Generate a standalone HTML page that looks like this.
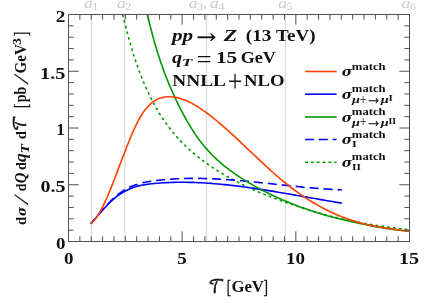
<!DOCTYPE html>
<html><head><meta charset="utf-8"><title>plot</title>
<style>html,body{margin:0;padding:0;background:#fff}svg{display:block;will-change:transform}</style></head>
<body><svg width="424" height="303" viewBox="0 0 424 303">
<rect width="424" height="303" fill="#fff"/>
<path d="M91.4 14.5 V241.5 M124.7 14.5 V241.5 M206.5 14.5 V241.5 M285.5 14.5 V241.5" stroke="#dedede" stroke-width="1.45" fill="none"/>
<clipPath id="c"><rect x="68.5" y="14.5" width="341.0" height="227.0"/></clipPath>
<g clip-path="url(#c)" fill="none" stroke-width="1.6" stroke-linecap="butt">
<path d="M116.3 -16.6 L117.3 -11.5 L118.2 -6.5 L119.2 -1.7 L120.2 3.0 L121.2 7.5 L122.2 11.9 L123.1 16.2 L124.1 20.3 L125.1 24.3 L126.1 28.2 L127.1 32.0 L128.1 35.7 L129.0 39.3 L130.0 42.8 L131.0 46.2 L132.0 49.4 L133.0 52.6 L133.9 55.7 L134.9 58.7 L135.9 61.7 L136.9 64.5 L137.9 67.3 L138.8 70.0 L139.8 72.7 L140.8 75.2 L141.8 77.7 L142.8 80.2 L143.7 82.5 L144.7 84.8 L145.7 87.1 L146.7 89.3 L147.7 91.4 L148.7 93.5 L149.6 95.6 L150.6 97.6 L151.6 99.5 L152.6 101.4 L153.6 103.2 L154.5 105.0 L155.5 106.8 L156.5 108.5 L157.5 110.2 L158.5 111.9 L159.4 113.5 L160.4 115.0 L161.4 116.6 L162.4 118.1 L163.4 119.5 L164.4 121.0 L165.3 122.4 L166.3 123.8 L167.3 125.1 L168.3 126.4 L169.3 127.7 L170.2 129.0 L171.2 130.3 L172.2 131.5 L173.2 132.7 L174.2 133.8 L175.1 135.0 L176.1 136.1 L177.1 137.2 L178.1 138.3 L179.1 139.4 L180.0 140.4 L181.0 141.4 L182.0 142.5 L183.0 143.5 L184.0 144.4 L185.0 145.4 L185.9 146.3 L186.9 147.3 L187.9 148.2 L188.9 149.1 L189.9 150.0 L190.8 150.8 L191.8 151.7 L192.8 152.5 L193.8 153.4 L194.8 154.2 L195.7 155.0 L196.7 155.8 L197.7 156.6 L198.7 157.4 L199.7 158.1 L200.6 158.9 L201.6 159.6 L202.6 160.4 L203.6 161.1 L204.6 161.8 L205.6 162.6 L206.5 163.3 L207.5 164.0 L208.5 164.6 L209.5 165.3 L210.5 166.0 L211.4 166.7 L212.4 167.3 L213.4 168.0 L214.4 168.6 L215.4 169.3 L216.3 169.9 L217.3 170.5 L218.3 171.2 L219.3 171.8 L220.3 172.4 L221.2 173.0 L222.2 173.6 L223.2 174.2 L224.2 174.8 L225.2 175.3 L226.2 175.9 L227.1 176.5 L228.1 177.0 L229.1 177.6 L230.1 178.1 L231.1 178.7 L232.0 179.2 L233.0 179.8 L234.0 180.3 L235.0 180.8 L236.0 181.3 L236.9 181.8 L237.9 182.3 L238.9 182.8 L239.9 183.3 L240.9 183.8 L241.8 184.3 L242.8 184.8 L243.8 185.3 L244.8 185.8 L245.8 186.2 L246.8 186.7 L247.7 187.2 L248.7 187.6 L249.7 188.1 L250.7 188.5 L251.7 189.0 L252.6 189.4 L253.6 189.8 L254.6 190.3 L255.6 190.7 L256.6 191.1 L257.5 191.5 L258.5 191.9 L259.5 192.4 L260.5 192.8 L261.5 193.2 L262.5 193.6 L263.4 194.0 L264.4 194.4 L265.4 194.8 L266.4 195.2 L267.4 195.5 L268.3 195.9 L269.3 196.3 L270.3 196.7 L271.3 197.1 L272.3 197.4 L273.2 197.8 L274.2 198.2 L275.2 198.5 L276.2 198.9 L277.2 199.3 L278.1 199.6 L279.1 200.0 L280.1 200.3 L281.1 200.7 L282.1 201.0 L283.1 201.4 L284.0 201.7 L285.0 202.1 L286.0 202.4 L287.0 202.8 L288.0 203.1 L288.9 203.5 L289.9 203.8 L290.9 204.1 L291.9 204.5 L292.9 204.8 L293.8 205.1 L294.8 205.5 L295.8 205.8 L296.8 206.1 L297.8 206.4 L298.7 206.8 L299.7 207.1 L300.7 207.4 L301.7 207.7 L302.7 208.0 L303.7 208.4 L304.6 208.7 L305.6 209.0 L306.6 209.3 L307.6 209.6 L308.6 209.9 L309.5 210.2 L310.5 210.5 L311.5 210.8 L312.5 211.1 L313.5 211.4 L314.4 211.7 L315.4 211.9 L316.4 212.2 L317.4 212.5 L318.4 212.8 L319.3 213.1 L320.3 213.3 L321.3 213.6 L322.3 213.9 L323.3 214.2 L324.3 214.4 L325.2 214.7 L326.2 214.9 L327.2 215.2 L328.2 215.5 L329.2 215.7 L330.1 216.0 L331.1 216.2 L332.1 216.5 L333.1 216.7 L334.1 216.9 L335.0 217.2 L336.0 217.4 L337.0 217.7 L338.0 217.9 L339.0 218.1 L339.9 218.4 L340.9 218.6 L341.9 218.8 L342.9 219.0 L343.9 219.2 L344.9 219.5 L345.8 219.7 L346.8 219.9 L347.8 220.1 L348.8 220.3 L349.8 220.5 L350.7 220.7 L351.7 220.9 L352.7 221.1 L353.7 221.3 L354.7 221.5 L355.6 221.7 L356.6 221.9 L357.6 222.1 L358.6 222.3 L359.6 222.5 L360.6 222.7 L361.5 222.8 L362.5 223.0 L363.5 223.2 L364.5 223.4 L365.5 223.5 L366.4 223.7 L367.4 223.9 L368.4 224.1 L369.4 224.2 L370.4 224.4 L371.3 224.6 L372.3 224.7 L373.3 224.9 L374.3 225.1 L375.3 225.2 L376.2 225.4 L377.2 225.5 L378.2 225.7 L379.2 225.8 L380.2 226.0 L381.2 226.1 L382.1 226.3 L383.1 226.4 L384.1 226.6 L385.1 226.7 L386.1 226.9 L387.0 227.0 L388.0 227.1 L389.0 227.3 L390.0 227.4 L391.0 227.5 L391.9 227.7 L392.9 227.8 L393.9 227.9 L394.9 228.1 L395.9 228.2 L396.8 228.3 L397.8 228.4 L398.8 228.6 L399.8 228.7 L400.8 228.8 L401.8 228.9 L402.7 229.1 L403.7 229.2 L404.7 229.3 L405.7 229.4 L406.7 229.5 L407.6 229.6 L408.6 229.8 L409.6 229.9" stroke="#009900" stroke-dasharray="2.7 3.15" stroke-dashoffset="3.40"/>
<path d="M90.8 223.8 L92.1 222.3 L93.3 220.7 L94.6 219.2 L95.8 217.7 L97.1 216.2 L98.4 214.7 L99.6 213.2 L100.9 211.7 L102.2 210.2 L103.4 208.8 L104.7 207.4 L105.9 206.0 L107.2 204.6 L108.5 203.3 L109.7 202.0 L111.0 200.7 L112.2 199.5 L113.5 198.3 L114.8 197.2 L116.0 196.1 L117.3 195.0 L118.5 194.0 L119.8 193.1 L121.1 192.2 L122.3 191.3 L123.6 190.5 L124.9 189.8 L126.1 189.0 L127.4 188.4 L128.6 187.7 L129.9 187.1 L131.2 186.5 L132.4 186.0 L133.7 185.5 L134.9 185.0 L136.2 184.6 L137.5 184.2 L138.7 183.8 L140.0 183.5 L141.3 183.1 L142.5 182.8 L143.8 182.5 L145.0 182.3 L146.3 182.0 L147.6 181.8 L148.8 181.6 L150.1 181.4 L151.3 181.2 L152.6 181.0 L153.9 180.8 L155.1 180.7 L156.4 180.5 L157.6 180.4 L158.9 180.2 L160.2 180.1 L161.4 180.0 L162.7 179.8 L164.0 179.7 L165.2 179.6 L166.5 179.5 L167.7 179.4 L169.0 179.3 L170.3 179.2 L171.5 179.1 L172.8 179.0 L174.0 179.0 L175.3 178.9 L176.6 178.8 L177.8 178.8 L179.1 178.7 L180.4 178.6 L181.6 178.6 L182.9 178.6 L184.1 178.5 L185.4 178.5 L186.7 178.5 L187.9 178.4 L189.2 178.4 L190.4 178.4 L191.7 178.4 L193.0 178.4 L194.2 178.4 L195.5 178.4 L196.7 178.4 L198.0 178.4 L199.3 178.4 L200.5 178.4 L201.8 178.5 L203.1 178.5 L204.3 178.5 L205.6 178.6 L206.8 178.6 L208.1 178.6 L209.4 178.7 L210.6 178.7 L211.9 178.8 L213.1 178.8 L214.4 178.9 L215.7 178.9 L216.9 179.0 L218.2 179.1 L219.5 179.1 L220.7 179.2 L222.0 179.3 L223.2 179.4 L224.5 179.5 L225.8 179.5 L227.0 179.6 L228.3 179.7 L229.5 179.8 L230.8 179.9 L232.1 180.0 L233.3 180.1 L234.6 180.2 L235.9 180.3 L237.1 180.4 L238.4 180.5 L239.6 180.6 L240.9 180.7 L242.2 180.8 L243.4 180.9 L244.7 181.1 L245.9 181.2 L247.2 181.3 L248.5 181.4 L249.7 181.5 L251.0 181.7 L252.2 181.8 L253.5 181.9 L254.8 182.0 L256.0 182.2 L257.3 182.3 L258.6 182.4 L259.8 182.6 L261.1 182.7 L262.3 182.8 L263.6 182.9 L264.9 183.1 L266.1 183.2 L267.4 183.3 L268.6 183.5 L269.9 183.6 L271.2 183.8 L272.4 183.9 L273.7 184.0 L275.0 184.2 L276.2 184.3 L277.5 184.4 L278.7 184.6 L280.0 184.7 L281.3 184.8 L282.5 185.0 L283.8 185.1 L285.0 185.2 L286.3 185.4 L287.6 185.5 L288.8 185.6 L290.1 185.8 L291.3 185.9 L292.6 186.0 L293.9 186.2 L295.1 186.3 L296.4 186.4 L297.7 186.6 L298.9 186.7 L300.2 186.8 L301.4 186.9 L302.7 187.1 L304.0 187.2 L305.2 187.3 L306.5 187.4 L307.7 187.5 L309.0 187.6 L310.3 187.8 L311.5 187.9 L312.8 188.0 L314.1 188.1 L315.3 188.2 L316.6 188.3 L317.8 188.4 L319.1 188.5 L320.4 188.6 L321.6 188.7 L322.9 188.8 L324.1 188.9 L325.4 189.0 L326.7 189.0 L327.9 189.1 L329.2 189.2 L330.4 189.3 L331.7 189.4 L333.0 189.4 L334.2 189.5 L335.5 189.6 L336.8 189.6 L338.0 189.7 L339.3 189.8 L340.5 189.8 L341.8 189.9" stroke="#0000ff" stroke-dasharray="9.1 4.9" stroke-dashoffset="2.71"/>
<path d="M90.8 223.8 L94.0 220.0 L97.2 216.3 L100.3 212.6 L103.5 209.1 L106.7 205.7 L109.9 202.5 L113.0 199.6 L116.2 196.9 L119.4 194.5 L122.6 192.5 L125.7 190.7 L128.9 189.2 L132.1 187.9 L135.3 186.8 L138.5 185.9 L141.6 185.2 L144.8 184.6 L148.0 184.2 L151.2 183.8 L154.3 183.5 L157.5 183.2 L160.7 183.0 L163.9 182.8 L167.1 182.6 L170.2 182.5 L173.4 182.4 L176.6 182.3 L179.8 182.3 L182.9 182.3 L186.1 182.3 L189.3 182.4 L192.5 182.4 L195.6 182.5 L198.8 182.7 L202.0 182.8 L205.2 183.0 L208.4 183.2 L211.5 183.4 L214.7 183.7 L217.9 184.0 L221.1 184.3 L224.2 184.6 L227.4 184.9 L230.6 185.2 L233.8 185.6 L237.0 186.0 L240.1 186.4 L243.3 186.8 L246.5 187.2 L249.7 187.7 L252.8 188.1 L256.0 188.6 L259.2 189.1 L262.4 189.6 L265.5 190.1 L268.7 190.6 L271.9 191.1 L275.1 191.6 L278.3 192.2 L281.4 192.7 L284.6 193.3 L287.8 193.8 L291.0 194.4 L294.1 194.9 L297.3 195.5 L300.5 196.0 L303.7 196.6 L306.9 197.1 L310.0 197.7 L313.2 198.3 L316.4 198.8 L319.6 199.4 L322.7 199.9 L325.9 200.5 L329.1 201.0 L332.3 201.5 L335.4 202.1 L338.6 202.6 L341.8 203.1" stroke="#0000ff"/>
<path d="M140.8 -17.7 L142.1 -10.5 L143.5 -3.7 L144.8 2.9 L146.2 9.1 L147.5 15.1 L148.9 20.8 L150.2 26.3 L151.6 31.5 L152.9 36.6 L154.3 41.4 L155.6 46.0 L157.0 50.5 L158.3 54.8 L159.7 59.0 L161.0 63.0 L162.4 66.8 L163.7 70.6 L165.1 74.2 L166.4 77.7 L167.8 81.1 L169.1 84.4 L170.5 87.5 L171.9 90.7 L173.2 93.7 L174.6 96.6 L175.9 99.5 L177.3 102.3 L178.6 105.1 L180.0 107.8 L181.3 110.4 L182.7 113.0 L184.0 115.5 L185.4 118.0 L186.7 120.4 L188.1 122.7 L189.4 125.0 L190.8 127.3 L192.1 129.4 L193.5 131.5 L194.8 133.6 L196.2 135.6 L197.5 137.5 L198.9 139.4 L200.2 141.2 L201.6 143.0 L202.9 144.6 L204.3 146.3 L205.6 147.9 L207.0 149.4 L208.3 150.9 L209.7 152.4 L211.0 153.8 L212.4 155.2 L213.7 156.5 L215.1 157.8 L216.4 159.1 L217.8 160.3 L219.1 161.5 L220.5 162.7 L221.8 163.9 L223.2 165.0 L224.5 166.1 L225.9 167.2 L227.2 168.2 L228.6 169.2 L229.9 170.3 L231.3 171.2 L232.6 172.2 L234.0 173.2 L235.3 174.1 L236.7 175.0 L238.0 175.9 L239.4 176.8 L240.7 177.7 L242.1 178.6 L243.4 179.4 L244.8 180.3 L246.1 181.1 L247.5 181.9 L248.8 182.7 L250.2 183.5 L251.6 184.3 L252.9 185.1 L254.3 185.9 L255.6 186.6 L257.0 187.4 L258.3 188.1 L259.7 188.8 L261.0 189.6 L262.4 190.3 L263.7 191.0 L265.1 191.6 L266.4 192.3 L267.8 193.0 L269.1 193.7 L270.5 194.3 L271.8 195.0 L273.2 195.6 L274.5 196.2 L275.9 196.9 L277.2 197.5 L278.6 198.1 L279.9 198.7 L281.3 199.3 L282.6 199.9 L284.0 200.4 L285.3 201.0 L286.7 201.6 L288.0 202.1 L289.4 202.7 L290.7 203.2 L292.1 203.8 L293.4 204.3 L294.8 204.8 L296.1 205.3 L297.5 205.9 L298.8 206.4 L300.2 206.9 L301.5 207.4 L302.9 207.8 L304.2 208.3 L305.6 208.8 L306.9 209.3 L308.3 209.7 L309.6 210.2 L311.0 210.7 L312.3 211.1 L313.7 211.6 L315.0 212.0 L316.4 212.4 L317.7 212.8 L319.1 213.3 L320.4 213.7 L321.8 214.1 L323.1 214.5 L324.5 214.9 L325.8 215.3 L327.2 215.7 L328.5 216.0 L329.9 216.4 L331.3 216.8 L332.6 217.1 L334.0 217.5 L335.3 217.8 L336.7 218.2 L338.0 218.5 L339.4 218.8 L340.7 219.2 L342.1 219.5 L343.4 219.8 L344.8 220.1 L346.1 220.4 L347.5 220.7 L348.8 221.0 L350.2 221.3 L351.5 221.6 L352.9 221.9 L354.2 222.2 L355.6 222.5 L356.9 222.8 L358.3 223.1 L359.6 223.4 L361.0 223.7 L362.3 224.0 L363.7 224.3 L365.0 224.5 L366.4 224.8 L367.7 225.1 L369.1 225.3 L370.4 225.6 L371.8 225.9 L373.1 226.1 L374.5 226.4 L375.8 226.6 L377.2 226.9 L378.5 227.1 L379.9 227.3 L381.2 227.6 L382.6 227.8 L383.9 228.0 L385.3 228.2 L386.6 228.4 L388.0 228.6 L389.3 228.8 L390.7 229.0 L392.0 229.2 L393.4 229.4 L394.7 229.6 L396.1 229.8 L397.4 229.9 L398.8 230.1 L400.1 230.3 L401.5 230.4 L402.8 230.6 L404.2 230.7 L405.5 230.9 L406.9 231.0 L408.2 231.1 L409.6 231.3" stroke="#009900"/>
<path d="M90.8 223.6 L92.8 221.9 L94.8 219.7 L96.8 217.0 L98.8 213.9 L100.8 210.4 L102.8 206.6 L104.8 202.4 L106.8 198.0 L108.8 193.3 L110.8 188.4 L112.8 183.4 L114.8 178.2 L116.8 172.9 L118.8 167.6 L120.8 162.3 L122.9 156.9 L124.9 151.7 L126.9 146.5 L128.9 141.5 L130.9 136.6 L132.9 131.9 L134.9 127.5 L136.9 123.3 L138.9 119.5 L140.9 116.0 L142.9 112.9 L144.9 110.1 L146.9 107.7 L148.9 105.5 L150.9 103.6 L152.9 102.0 L154.9 100.6 L156.9 99.5 L158.9 98.6 L160.9 97.9 L162.9 97.4 L164.9 97.0 L166.9 96.8 L168.9 96.8 L170.9 96.8 L172.9 97.0 L174.9 97.3 L176.9 97.6 L178.9 98.1 L180.9 98.7 L182.9 99.4 L184.9 100.1 L187.0 101.0 L189.0 101.9 L191.0 102.9 L193.0 104.0 L195.0 105.1 L197.0 106.3 L199.0 107.6 L201.0 108.9 L203.0 110.3 L205.0 111.7 L207.0 113.1 L209.0 114.6 L211.0 116.2 L213.0 117.8 L215.0 119.4 L217.0 121.0 L219.0 122.7 L221.0 124.4 L223.0 126.1 L225.0 127.9 L227.0 129.6 L229.0 131.4 L231.0 133.3 L233.0 135.1 L235.0 136.9 L237.0 138.8 L239.0 140.7 L241.0 142.6 L243.0 144.5 L245.0 146.4 L247.0 148.3 L249.0 150.2 L251.1 152.1 L253.1 154.0 L255.1 155.9 L257.1 157.8 L259.1 159.7 L261.1 161.6 L263.1 163.4 L265.1 165.3 L267.1 167.1 L269.1 168.9 L271.1 170.8 L273.1 172.5 L275.1 174.3 L277.1 176.0 L279.1 177.8 L281.1 179.5 L283.1 181.1 L285.1 182.7 L287.1 184.3 L289.1 185.9 L291.1 187.5 L293.1 189.0 L295.1 190.5 L297.1 191.9 L299.1 193.4 L301.1 194.8 L303.1 196.1 L305.1 197.5 L307.1 198.8 L309.1 200.1 L311.1 201.3 L313.1 202.5 L315.2 203.7 L317.2 204.9 L319.2 206.0 L321.2 207.1 L323.2 208.2 L325.2 209.3 L327.2 210.3 L329.2 211.3 L331.2 212.2 L333.2 213.1 L335.2 214.0 L337.2 214.9 L339.2 215.7 L341.2 216.5 L343.2 217.3 L345.2 218.0 L347.2 218.8 L349.2 219.5 L351.2 220.1 L353.2 220.7 L355.2 221.4 L357.2 221.9 L359.2 222.5 L361.2 223.0 L363.2 223.6 L365.2 224.1 L367.2 224.5 L369.2 225.0 L371.2 225.4 L373.2 225.8 L375.2 226.2 L377.2 226.6 L379.3 227.0 L381.3 227.4 L383.3 227.7 L385.3 228.0 L387.3 228.3 L389.3 228.6 L391.3 228.9 L393.3 229.2 L395.3 229.5 L397.3 229.8 L399.3 230.0 L401.3 230.3 L403.3 230.5 L405.3 230.8 L407.3 231.0 L409.3 231.2" stroke="#ff4000"/>
</g>
<path d="M79.87 241.5 v-5.2 M79.87 14.5 v5.2 M91.23 241.5 v-5.2 M91.23 14.5 v5.2 M102.60 241.5 v-5.2 M102.60 14.5 v5.2 M113.97 241.5 v-5.2 M113.97 14.5 v5.2 M125.33 241.5 v-5.2 M125.33 14.5 v5.2 M136.70 241.5 v-5.2 M136.70 14.5 v5.2 M148.07 241.5 v-5.2 M148.07 14.5 v5.2 M159.43 241.5 v-5.2 M159.43 14.5 v5.2 M170.80 241.5 v-5.2 M170.80 14.5 v5.2 M182.17 241.5 v-10.2 M182.17 14.5 v10.2 M193.53 241.5 v-5.2 M193.53 14.5 v5.2 M204.90 241.5 v-5.2 M204.90 14.5 v5.2 M216.27 241.5 v-5.2 M216.27 14.5 v5.2 M227.63 241.5 v-5.2 M227.63 14.5 v5.2 M239.00 241.5 v-5.2 M239.00 14.5 v5.2 M250.37 241.5 v-5.2 M250.37 14.5 v5.2 M261.73 241.5 v-5.2 M261.73 14.5 v5.2 M273.10 241.5 v-5.2 M273.10 14.5 v5.2 M284.47 241.5 v-5.2 M284.47 14.5 v5.2 M295.83 241.5 v-10.2 M295.83 14.5 v10.2 M307.20 241.5 v-5.2 M307.20 14.5 v5.2 M318.57 241.5 v-5.2 M318.57 14.5 v5.2 M329.93 241.5 v-5.2 M329.93 14.5 v5.2 M341.30 241.5 v-5.2 M341.30 14.5 v5.2 M352.67 241.5 v-5.2 M352.67 14.5 v5.2 M364.03 241.5 v-5.2 M364.03 14.5 v5.2 M375.40 241.5 v-5.2 M375.40 14.5 v5.2 M386.77 241.5 v-5.2 M386.77 14.5 v5.2 M398.13 241.5 v-5.2 M398.13 14.5 v5.2 M68.5 230.15 h5.2 M409.5 230.15 h-5.2 M68.5 218.80 h5.2 M409.5 218.80 h-5.2 M68.5 207.45 h5.2 M409.5 207.45 h-5.2 M68.5 196.10 h5.2 M409.5 196.10 h-5.2 M68.5 184.75 h10.2 M409.5 184.75 h-10.2 M68.5 173.40 h5.2 M409.5 173.40 h-5.2 M68.5 162.05 h5.2 M409.5 162.05 h-5.2 M68.5 150.70 h5.2 M409.5 150.70 h-5.2 M68.5 139.35 h5.2 M409.5 139.35 h-5.2 M68.5 128.00 h10.2 M409.5 128.00 h-10.2 M68.5 116.65 h5.2 M409.5 116.65 h-5.2 M68.5 105.30 h5.2 M409.5 105.30 h-5.2 M68.5 93.95 h5.2 M409.5 93.95 h-5.2 M68.5 82.60 h5.2 M409.5 82.60 h-5.2 M68.5 71.25 h10.2 M409.5 71.25 h-10.2 M68.5 59.90 h5.2 M409.5 59.90 h-5.2 M68.5 48.55 h5.2 M409.5 48.55 h-5.2 M68.5 37.20 h5.2 M409.5 37.20 h-5.2 M68.5 25.85 h5.2 M409.5 25.85 h-5.2" stroke="#505050" stroke-width="1" fill="none"/>
<rect x="68.5" y="14.5" width="341.00" height="227.00" fill="none" stroke="#505050" stroke-width="1"/>
<g fill="none" stroke-width="1.6">
<path d="M305 71.5 H336.6" stroke="#ff4000"/>
<path d="M305 94.2 H336.6" stroke="#0000ff"/>
<path d="M305 117.0 H336.6" stroke="#009900"/>
<path d="M305 139.5 H336.6" stroke="#0000ff" stroke-dasharray="9.0 4.8"/>
<path d="M305 162.2 H336.6" stroke="#009900" stroke-dasharray="2.9 2.95"/>
</g>
<text x="64.10" y="264.40" textLength="9.50" lengthAdjust="spacingAndGlyphs" font-family="'Liberation Serif',serif" font-size="16.5" font-weight="bold" fill="#111" >0</text>
<text x="177.30" y="264.40" textLength="9.50" lengthAdjust="spacingAndGlyphs" font-family="'Liberation Serif',serif" font-size="16.5" font-weight="bold" fill="#111" >5</text>
<text x="286.00" y="264.40" textLength="19.00" lengthAdjust="spacingAndGlyphs" font-family="'Liberation Serif',serif" font-size="16.5" font-weight="bold" fill="#111" >10</text>
<text x="398.90" y="264.40" textLength="20.10" lengthAdjust="spacingAndGlyphs" font-family="'Liberation Serif',serif" font-size="16.5" font-weight="bold" fill="#111" >15</text>
<text x="55.90" y="248.80" textLength="9.50" lengthAdjust="spacingAndGlyphs" font-family="'Liberation Serif',serif" font-size="16.5" font-weight="bold" fill="#111" >0</text>
<text x="40.40" y="192.05" textLength="25.00" lengthAdjust="spacingAndGlyphs" font-family="'Liberation Serif',serif" font-size="16.5" font-weight="bold" fill="#111" >0.5</text>
<text x="56.60" y="135.30" textLength="8.20" lengthAdjust="spacingAndGlyphs" font-family="'Liberation Serif',serif" font-size="16.5" font-weight="bold" fill="#111" >1</text>
<text x="40.10" y="78.55" textLength="25.30" lengthAdjust="spacingAndGlyphs" font-family="'Liberation Serif',serif" font-size="16.5" font-weight="bold" fill="#111" >1.5</text>
<text x="55.80" y="21.80" textLength="9.60" lengthAdjust="spacingAndGlyphs" font-family="'Liberation Serif',serif" font-size="16.5" font-weight="bold" fill="#111" >2</text>
<text x="84.00" y="7.70" textLength="8.80" lengthAdjust="spacingAndGlyphs" font-family="'Liberation Serif',serif" font-size="15.5" font-style="italic" fill="#cbcbcb" >a</text><text x="92.30" y="10.00" textLength="6.10" lengthAdjust="spacingAndGlyphs" font-family="'Liberation Serif',serif" font-size="9.5" fill="#cbcbcb" >1</text>
<text x="117.00" y="7.70" textLength="8.80" lengthAdjust="spacingAndGlyphs" font-family="'Liberation Serif',serif" font-size="15.5" font-style="italic" fill="#cbcbcb" >a</text><text x="125.30" y="10.00" textLength="6.10" lengthAdjust="spacingAndGlyphs" font-family="'Liberation Serif',serif" font-size="9.5" fill="#cbcbcb" >2</text>
<text x="278.30" y="7.70" textLength="8.80" lengthAdjust="spacingAndGlyphs" font-family="'Liberation Serif',serif" font-size="15.5" font-style="italic" fill="#cbcbcb" >a</text><text x="286.60" y="10.00" textLength="6.10" lengthAdjust="spacingAndGlyphs" font-family="'Liberation Serif',serif" font-size="9.5" fill="#cbcbcb" >5</text>
<text x="401.50" y="7.70" textLength="8.80" lengthAdjust="spacingAndGlyphs" font-family="'Liberation Serif',serif" font-size="15.5" font-style="italic" fill="#cbcbcb" >a</text><text x="409.80" y="10.00" textLength="6.10" lengthAdjust="spacingAndGlyphs" font-family="'Liberation Serif',serif" font-size="9.5" fill="#cbcbcb" >6</text>
<text x="188.80" y="7.70" textLength="8.80" lengthAdjust="spacingAndGlyphs" font-family="'Liberation Serif',serif" font-size="15.5" font-style="italic" fill="#cbcbcb" >a</text>
<text x="197.10" y="10.00" textLength="6.10" lengthAdjust="spacingAndGlyphs" font-family="'Liberation Serif',serif" font-size="9.5" fill="#cbcbcb" >3</text>
<text x="203.60" y="7.70" textLength="3.20" lengthAdjust="spacingAndGlyphs" font-family="'Liberation Serif',serif" font-size="15.5" fill="#cbcbcb" >,</text>
<text x="210.00" y="7.70" textLength="8.70" lengthAdjust="spacingAndGlyphs" font-family="'Liberation Serif',serif" font-size="15.5" font-style="italic" fill="#cbcbcb" >a</text>
<text x="218.30" y="10.00" textLength="6.40" lengthAdjust="spacingAndGlyphs" font-family="'Liberation Serif',serif" font-size="9.5" fill="#cbcbcb" >4</text>
<text x="171.90" y="40.90" textLength="21.10" lengthAdjust="spacingAndGlyphs" font-family="'Liberation Serif',serif" font-size="17" font-weight="bold" font-style="italic" fill="#111" >pp</text>
<text x="196.40" y="42.00" textLength="20.50" lengthAdjust="spacingAndGlyphs" font-family="'DejaVu Math TeX Gyre','Liberation Serif',serif" font-size="17" fill="#111" stroke="#111" stroke-width="0.5">→</text>
<text x="223.80" y="40.90" textLength="13.40" lengthAdjust="spacingAndGlyphs" font-family="'Liberation Serif',serif" font-size="17" font-weight="bold" font-style="italic" fill="#111" >Z</text>
<text x="245.80" y="40.90" textLength="25.50" lengthAdjust="spacingAndGlyphs" font-family="'Liberation Serif',serif" font-size="17" font-weight="bold" fill="#111" >(13</text>
<text x="276.10" y="40.90" textLength="39.40" lengthAdjust="spacingAndGlyphs" font-family="'Liberation Serif',serif" font-size="17" font-weight="bold" fill="#111" >TeV)</text>
<text x="171.90" y="62.80" textLength="10.10" lengthAdjust="spacingAndGlyphs" font-family="'Liberation Serif',serif" font-size="17" font-weight="bold" font-style="italic" fill="#111" >q</text>
<text x="181.80" y="65.90" textLength="10.60" lengthAdjust="spacingAndGlyphs" font-family="'Liberation Serif',serif" font-size="11.2" font-weight="bold" font-style="italic" fill="#111" >T</text>
<text x="196.60" y="66.60" textLength="15.20" lengthAdjust="spacingAndGlyphs" font-family="'Liberation Serif',serif" font-size="24" fill="#111" >=</text>
<text x="215.90" y="62.80" textLength="21.30" lengthAdjust="spacingAndGlyphs" font-family="'Liberation Serif',serif" font-size="17" font-weight="bold" fill="#111" >15</text>
<text x="240.70" y="62.80" textLength="35.10" lengthAdjust="spacingAndGlyphs" font-family="'Liberation Serif',serif" font-size="17" font-weight="bold" fill="#111" >GeV</text>
<text x="172.30" y="85.80" textLength="53.60" lengthAdjust="spacingAndGlyphs" font-family="'Liberation Serif',serif" font-size="17" font-weight="bold" fill="#111" >NNLL</text>
<text x="227.70" y="92.40" textLength="14.60" lengthAdjust="spacingAndGlyphs" font-family="'Liberation Serif',serif" font-size="32" fill="#111" >+</text>
<text x="244.10" y="85.80" textLength="40.50" lengthAdjust="spacingAndGlyphs" font-family="'Liberation Serif',serif" font-size="17" font-weight="bold" fill="#111" >NLO</text>
<text x="208.40" y="293.00" textLength="16.00" lengthAdjust="spacingAndGlyphs" font-family="'DejaVu Math TeX Gyre','Liberation Serif',serif" font-size="18.5" fill="#111" stroke="#111" stroke-width="0.65">𝒯</text>
<text x="226.70" y="292.60" textLength="4.30" lengthAdjust="spacingAndGlyphs" font-family="'Liberation Serif',serif" font-size="19.5" fill="#111" stroke="#111" stroke-width="0.35">[</text>
<text x="231.40" y="292.30" textLength="32.50" lengthAdjust="spacingAndGlyphs" font-family="'Liberation Serif',serif" font-size="16.3" font-weight="bold" fill="#111" >GeV</text>
<text x="263.60" y="292.60" textLength="4.50" lengthAdjust="spacingAndGlyphs" font-family="'Liberation Serif',serif" font-size="19.5" fill="#111" stroke="#111" stroke-width="0.35">]</text>
<text transform="translate(26.30,224.90) rotate(-90)" textLength="8.20" lengthAdjust="spacingAndGlyphs" font-family="'Liberation Serif',serif" font-size="15.4" font-weight="bold" fill="#111" >d</text>
<text transform="translate(26.00,216.10) rotate(-90)" textLength="9.10" lengthAdjust="spacingAndGlyphs" font-family="'DejaVu Serif','Liberation Serif',serif" font-size="12.2" font-weight="bold" font-style="italic" fill="#111" >σ</text>
<text transform="translate(28.2,201.3) rotate(-90)" font-family="'Liberation Serif',serif" font-size="20.5" fill="#111" stroke="#111" stroke-width="0.3">∕</text>
<text transform="translate(26.30,191.20) rotate(-90)" textLength="7.70" lengthAdjust="spacingAndGlyphs" font-family="'Liberation Serif',serif" font-size="15.4" font-weight="bold" fill="#111" >d</text>
<text transform="translate(26.30,183.30) rotate(-90)" textLength="10.70" lengthAdjust="spacingAndGlyphs" font-family="'Liberation Serif',serif" font-size="16" font-weight="bold" font-style="italic" fill="#111" >Q</text>
<text transform="translate(26.30,169.90) rotate(-90)" textLength="7.80" lengthAdjust="spacingAndGlyphs" font-family="'Liberation Serif',serif" font-size="15.4" font-weight="bold" fill="#111" >d</text>
<text transform="translate(26.30,161.90) rotate(-90)" textLength="8.70" lengthAdjust="spacingAndGlyphs" font-family="'Liberation Serif',serif" font-size="16" font-weight="bold" font-style="italic" fill="#111" >q</text>
<text transform="translate(29.30,153.40) rotate(-90)" textLength="9.40" lengthAdjust="spacingAndGlyphs" font-family="'Liberation Serif',serif" font-size="11.5" font-weight="bold" font-style="italic" fill="#111" >T</text>
<text transform="translate(26.30,139.20) rotate(-90)" textLength="8.20" lengthAdjust="spacingAndGlyphs" font-family="'Liberation Serif',serif" font-size="15.4" font-weight="bold" fill="#111" >d</text>
<text transform="translate(26.30,131.00) rotate(-90)" textLength="15.80" lengthAdjust="spacingAndGlyphs" font-family="'DejaVu Math TeX Gyre','Liberation Serif',serif" font-size="17.5" fill="#111" stroke="#111" stroke-width="0.65">𝒯</text>
<text transform="translate(26.60,107.90) rotate(-90)" textLength="4.20" lengthAdjust="spacingAndGlyphs" font-family="'Liberation Serif',serif" font-size="19.5" fill="#111" stroke="#111" stroke-width="0.35">[</text>
<text transform="translate(26.30,102.30) rotate(-90)" textLength="15.40" lengthAdjust="spacingAndGlyphs" font-family="'Liberation Serif',serif" font-size="15.8" font-weight="bold" fill="#111" >pb</text>
<text transform="translate(28.2,80.8) rotate(-90)" font-family="'Liberation Serif',serif" font-size="20.5" fill="#111" stroke="#111" stroke-width="0.3">∕</text>
<text transform="translate(26.30,73.40) rotate(-90)" textLength="29.10" lengthAdjust="spacingAndGlyphs" font-family="'Liberation Serif',serif" font-size="15.8" font-weight="bold" fill="#111" >GeV</text>
<text transform="translate(21.10,44.80) rotate(-90)" textLength="6.60" lengthAdjust="spacingAndGlyphs" font-family="'Liberation Serif',serif" font-size="11.5" font-weight="bold" fill="#111" >3</text>
<text transform="translate(26.60,36.10) rotate(-90)" textLength="4.20" lengthAdjust="spacingAndGlyphs" font-family="'Liberation Serif',serif" font-size="19.5" fill="#111" stroke="#111" stroke-width="0.35">]</text>
<text x="341.80" y="76.30" textLength="10.40" lengthAdjust="spacingAndGlyphs" font-family="'DejaVu Serif','Liberation Serif',serif" font-size="12.6" font-weight="bold" font-style="italic" fill="#111" >σ</text>
<text x="351.80" y="69.80" textLength="33.90" lengthAdjust="spacingAndGlyphs" font-family="'Liberation Serif',serif" font-size="11.2" font-weight="bold" fill="#111" >match</text>
<text x="341.80" y="98.95" textLength="10.40" lengthAdjust="spacingAndGlyphs" font-family="'DejaVu Serif','Liberation Serif',serif" font-size="12.6" font-weight="bold" font-style="italic" fill="#111" >σ</text>
<text x="351.80" y="92.45" textLength="33.90" lengthAdjust="spacingAndGlyphs" font-family="'Liberation Serif',serif" font-size="11.2" font-weight="bold" fill="#111" >match</text>
<text x="352.10" y="103.45" textLength="7.90" lengthAdjust="spacingAndGlyphs" font-family="'Liberation Serif',serif" font-size="10.6" font-weight="bold" font-style="italic" fill="#111" >μ</text>
<text x="359.80" y="103.75" textLength="6.80" lengthAdjust="spacingAndGlyphs" font-family="'Liberation Serif',serif" font-size="14" fill="#111" >+</text>
<text x="368.10" y="103.85" textLength="11.20" lengthAdjust="spacingAndGlyphs" font-family="'DejaVu Math TeX Gyre','Liberation Serif',serif" font-size="11.5" fill="#111" stroke="#111" stroke-width="0.4">→</text>
<text x="380.80" y="103.45" textLength="8.00" lengthAdjust="spacingAndGlyphs" font-family="'Liberation Serif',serif" font-size="10.6" font-weight="bold" font-style="italic" fill="#111" >μ</text>
<text x="388.50" y="100.85" textLength="4.30" lengthAdjust="spacingAndGlyphs" font-family="'Liberation Serif',serif" font-size="8.2" font-weight="bold" fill="#111" >I</text>
<text x="341.80" y="121.60" textLength="10.40" lengthAdjust="spacingAndGlyphs" font-family="'DejaVu Serif','Liberation Serif',serif" font-size="12.6" font-weight="bold" font-style="italic" fill="#111" >σ</text>
<text x="351.80" y="115.10" textLength="33.90" lengthAdjust="spacingAndGlyphs" font-family="'Liberation Serif',serif" font-size="11.2" font-weight="bold" fill="#111" >match</text>
<text x="352.10" y="126.10" textLength="7.90" lengthAdjust="spacingAndGlyphs" font-family="'Liberation Serif',serif" font-size="10.6" font-weight="bold" font-style="italic" fill="#111" >μ</text>
<text x="359.80" y="126.40" textLength="6.80" lengthAdjust="spacingAndGlyphs" font-family="'Liberation Serif',serif" font-size="14" fill="#111" >+</text>
<text x="368.10" y="126.50" textLength="11.20" lengthAdjust="spacingAndGlyphs" font-family="'DejaVu Math TeX Gyre','Liberation Serif',serif" font-size="11.5" fill="#111" stroke="#111" stroke-width="0.4">→</text>
<text x="380.80" y="126.10" textLength="8.00" lengthAdjust="spacingAndGlyphs" font-family="'Liberation Serif',serif" font-size="10.6" font-weight="bold" font-style="italic" fill="#111" >μ</text>
<text x="388.50" y="123.50" textLength="7.60" lengthAdjust="spacingAndGlyphs" font-family="'Liberation Serif',serif" font-size="8.2" font-weight="bold" fill="#111" >II</text>
<text x="341.80" y="144.25" textLength="10.40" lengthAdjust="spacingAndGlyphs" font-family="'DejaVu Serif','Liberation Serif',serif" font-size="12.6" font-weight="bold" font-style="italic" fill="#111" >σ</text>
<text x="351.80" y="137.75" textLength="33.90" lengthAdjust="spacingAndGlyphs" font-family="'Liberation Serif',serif" font-size="11.2" font-weight="bold" fill="#111" >match</text>
<text x="352.00" y="147.35" textLength="4.80" lengthAdjust="spacingAndGlyphs" font-family="'Liberation Serif',serif" font-size="8.6" font-weight="bold" fill="#111" >I</text>
<text x="341.80" y="166.90" textLength="10.40" lengthAdjust="spacingAndGlyphs" font-family="'DejaVu Serif','Liberation Serif',serif" font-size="12.6" font-weight="bold" font-style="italic" fill="#111" >σ</text>
<text x="351.80" y="160.40" textLength="33.90" lengthAdjust="spacingAndGlyphs" font-family="'Liberation Serif',serif" font-size="11.2" font-weight="bold" fill="#111" >match</text>
<text x="352.00" y="170.00" textLength="9.00" lengthAdjust="spacingAndGlyphs" font-family="'Liberation Serif',serif" font-size="8.6" font-weight="bold" fill="#111" >II</text>
</svg></body></html>
